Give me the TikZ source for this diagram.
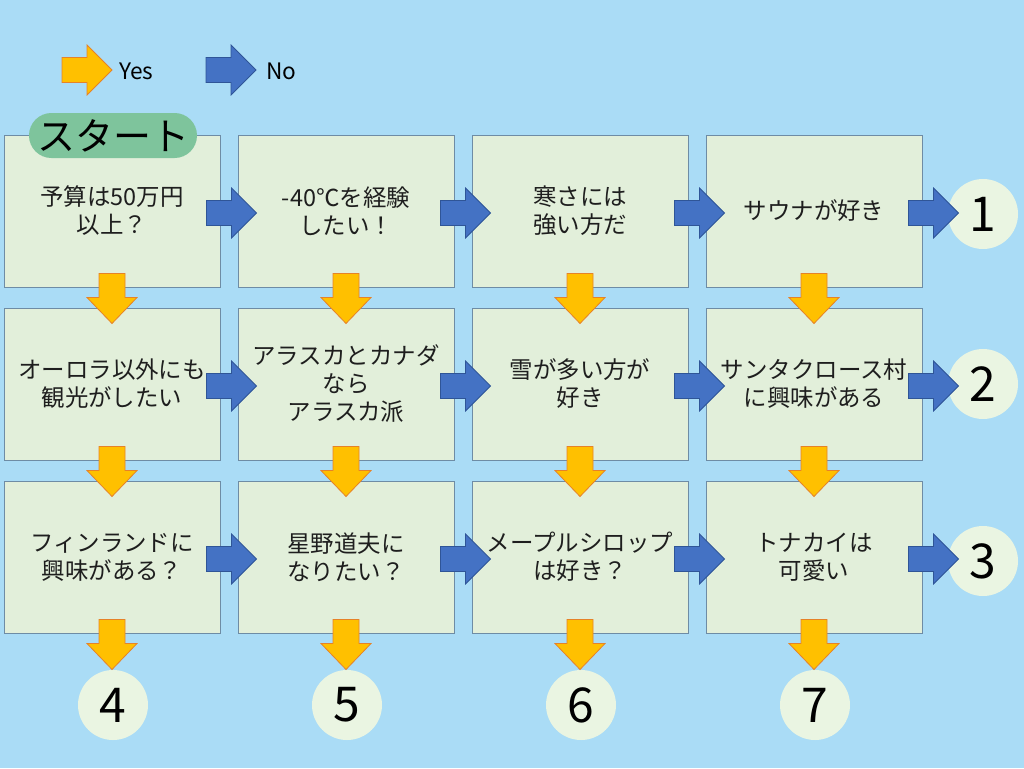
\documentclass[tikz,border=0pt]{standalone}
\usepackage{fontspec}
\setmainfont{Noto Sans CJK JP}
\usetikzlibrary{calc}
\definecolor{bg}{RGB}{170,220,246}
\definecolor{boxfill}{RGB}{226,239,218}
\definecolor{boxline}{RGB}{110,140,165}
\definecolor{bluearr}{RGB}{68,114,196}
\definecolor{bluearrline}{RGB}{47,85,151}
\definecolor{yelarr}{RGB}{255,192,0}
\definecolor{yelarrline}{RGB}{230,130,40}
\definecolor{circfill}{RGB}{234,245,226}
\definecolor{pillfill}{RGB}{126,196,156}
\definecolor{txt}{RGB}{30,30,30}
\newcommand{\noarrow}[1]{\draw[noarr] (#1) ++(0,-12.5) -- ++(25,0) -- ++(0,-12.5) -- ++(25,25) -- ++(-25,25) -- ++(0,-12.5) -- ++(-25,0) -- cycle;}
\newcommand{\yesright}[1]{\draw[yesarr] (#1) ++(0,-12.5) -- ++(25,0) -- ++(0,-12.5) -- ++(25,25) -- ++(-25,25) -- ++(0,-12.5) -- ++(-25,0) -- cycle;}
\newcommand{\yesdown}[1]{\draw[yesarr] (#1) ++(-13,0) -- ++(26,0) -- ++(0,24) -- ++(12,0) -- ++(-25,26) -- ++(-25,-26) -- ++(12,0) -- cycle;}
\begin{document}
\begin{tikzpicture}[x=0.75pt,y=-0.75pt,
  qbox/.style={draw=boxline,line width=0.75pt,fill=boxfill,minimum width=162pt,minimum height=114pt,align=center,text=txt,font=\fontsize{17.6pt}{21pt}\selectfont,inner sep=0pt},
  endc/.style={circle,fill=circfill,minimum size=52.5pt,inner sep=0pt,font=\fontsize{36pt}{40pt}\selectfont},
  noarr/.style={fill=bluearr,draw=bluearrline,line width=0.6pt,line join=miter},
  yesarr/.style={fill=yelarr,draw=yelarrline,line width=0.6pt,line join=miter},
  pill/.style={fill=pillfill,minimum width=126pt,minimum height=33.75pt,rounded corners=16.8pt,inner sep=0pt,font=\fontsize{28.5pt}{30pt}\selectfont},
  legtext/.style={anchor=west,font=\fontsize{17pt}{18pt}\selectfont,inner sep=0pt}]
\fill[bg] (0,0) rectangle (1024,768);
\useasboundingbox (0,0) rectangle (1024,768);
% legend
\coordinate (lyes) at (62,70);
\coordinate (lno) at (206,70);
\yesright{lyes}
\noarrow{lno}
\node[legtext] (tyes) at (119,71) {Yes};
\node[legtext] (tno) at (266,71) {No};
% boxes
\node[qbox] (b11) at (112,211) {予算は50万円\\以上？};
\node[qbox] (b12) at (346,211) {-40℃を経験\\したい！};
\node[qbox] (b13) at (580,211) {寒さには\\強い方だ};
\node[qbox] (b14) at (814,211) {サウナが好き};
\node[qbox] (b21) at (112,384) {オーロラ以外にも\\観光がしたい};
\node[qbox] (b22) at (346,384) {アラスカとカナダ\\なら\\アラスカ派};
\node[qbox] (b23) at (580,384) {雪が多い方が\\好き};
\node[qbox] (b24) at (814,384) {サンタクロース村\\に興味がある};
\node[qbox] (b31) at (112,557) {フィンランドに\\興味がある？};
\node[qbox] (b32) at (346,557) {星野道夫に\\なりたい？};
\node[qbox] (b33) at (580,557) {メープルシロップ\\は好き？};
\node[qbox] (b34) at (814,557) {トナカイは\\可愛い};
% start pill
\node[pill] (start) at (113,135.5) {スタート};
% end circles
\node[endc] (c1) at (983,214) {1};
\node[endc] (c2) at (983,384) {2};
\node[endc] (c3) at (983,561) {3};
\node[endc] (c4) at (113,705) {4};
\node[endc] (c5) at (347,705) {5};
\node[endc] (c6) at (581,705) {6};
\node[endc] (c7) at (815,705) {7};
% No arrows (right)
\foreach \r in {1,2,3}{
  \foreach \c in {1,2,3,4}{
    \noarrow{$(b\r\c.east)+(-14,2)$}
  }
}
% Yes arrows (down)
\foreach \r in {1,2,3}{
  \foreach \c in {1,2,3,4}{
    \yesdown{$(b\r\c.south)+(0,-14)$}
  }
}
\end{tikzpicture}
\end{document}
